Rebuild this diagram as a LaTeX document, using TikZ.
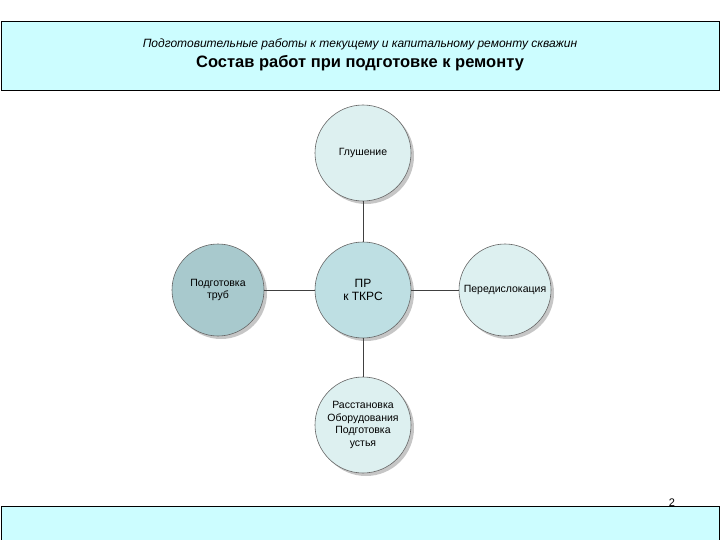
\documentclass[tikz,border=0pt]{standalone}
\usepackage{fontspec}
\setmainfont{Liberation Sans}
\definecolor{hdr}{HTML}{CCFDFF}
\definecolor{cA}{HTML}{DDF0F0}
\definecolor{cB}{HTML}{BEDFE3}
\definecolor{cC}{HTML}{A8C9CD}
\begin{document}
\begin{tikzpicture}[x=1pt,y=-1pt,
  bub/.style={circle,draw=gray!80!black,line width=0.6pt,inner sep=1pt,align=center,font=\fontsize{10.5}{12.5}\selectfont},
  conn/.style={draw=black!75,line width=1pt}]
\useasboundingbox (0,0) rectangle (720,540);
\fill[white] (0,0) rectangle (720,540);
\draw[fill=hdr,line width=0.8pt] (1,21) rectangle (719,90);
\node (sub) at (360,44) {\fontsize{12}{14}\selectfont\itshape Подготовительные работы к текущему и капитальному ремонту скважин};
\node (ttl) at (360,63) {\fontsize{16.5}{19}\selectfont\bfseries Состав работ при подготовке к ремонту};
\draw[fill=hdr,line width=0.8pt] (1,506) rectangle (719,541);
\node (pg) at (672,503) {\fontsize{11}{13}\selectfont 2};
\foreach \p/\r in {{363,153}/48,{363,290}/48,{218,290}/46,{505,290}/46,{363,425}/48}
  \fill[gray!45] ([shift={(3,3)}]\p) circle (\r);
\node[bub,fill=cB,minimum size=96pt] (c) at (363,290) {\fontsize{12}{14}\selectfont ПР\\\fontsize{12}{14}\selectfont к ТКРС};
\node[bub,fill=cA,minimum size=96pt] (t) at (363,153) {Глушение};
\node[bub,fill=cC,minimum size=92pt] (l) at (218,290) {Подготовка\\труб};
\node[bub,fill=cA,minimum size=92pt] (r) at (505,290) {Передислокация};
\node[bub,fill=cA,minimum size=96pt] (b) at (363,425) {Расстановка\\Оборудования\\Подготовка\\устья};
\draw[conn] (c) -- (t);
\draw[conn] (c) -- (l);
\draw[conn] (c) -- (r);
\draw[conn] (c) -- (b);
\end{tikzpicture}
\end{document}
